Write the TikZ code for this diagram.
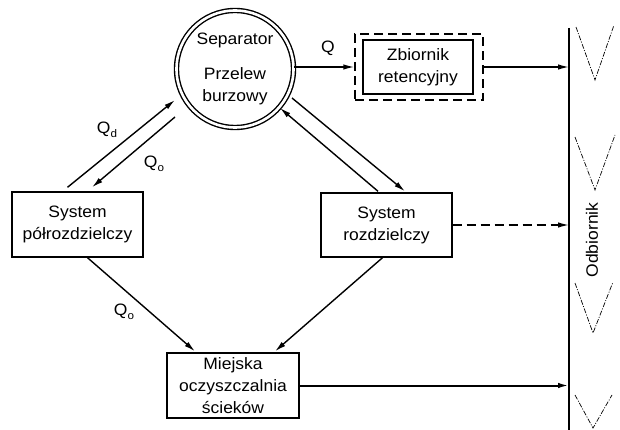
\documentclass[tikz,border=0pt]{standalone}
\usepackage{fontspec}
\setmainfont{Liberation Sans}[FakeStretch=1.06]
\usetikzlibrary{arrows.meta,calc}
\begin{document}
\begin{tikzpicture}[x=1pt,y=-1pt,
  font=\fontsize{16.5}{22}\selectfont,
  line width=1.4pt,
  box/.style={draw, rectangle, align=center, inner sep=0pt},
  arr/.style={-{Latex[length=11pt,width=5.5pt]}},
  vmark/.style={line width=0.7pt, dash pattern=on 5pt off 1.5pt on 1pt off 1.5pt}]
\path[use as bounding box] (0,0) rectangle (620,430);

% nodes
\node[circle, draw, double, double distance=2.6pt, minimum size=117pt, inner sep=0pt, align=center] (sep) at (235,69)
  {Separator\\[13pt]Przelew\\burzowy};
\node[draw, rectangle, dash pattern=on 9pt off 5pt, minimum width=128pt, minimum height=66pt, inner sep=0pt] (zbo) at (419,67) {};
\node[box, minimum width=110pt, minimum height=54pt] (zbi) at (418,67) {Zbiornik\\retencyjny};
\node[box, minimum width=131pt, minimum height=65pt] (pol) at (77.5,224.5) {System\\półrozdzielczy};
\node[box, minimum width=131pt, minimum height=64pt] (roz) at (386.5,225) {System\\rozdzielczy};
\node[box, minimum width=132pt, minimum height=65pt] (ocz) at (233,385.5) {Miejska\\oczyszczalnia\\ścieków};

% receiver
\coordinate (odbt) at (569,28);
\coordinate (odbb) at (569,430);
\draw (odbt) -- (odbb);
\node[rotate=90] (odbl) at (592,240) {Odbiornik};
\draw[vmark] (576,27) -- (595,80) -- (614,25);
\draw[vmark] (575,137) -- (595,190) -- (615,135);
\draw[vmark] (575,283) -- (593,333) -- (613,282);
\draw[vmark] (575,395) -- (593,428) -- (612,395);

% connectors
\draw[arr] (sep.east |- zbo.west) -- (zbo.west);
\draw[arr] (zbo.east) -- (zbo.east -| odbt);
\draw[arr, dash pattern=on 9pt off 5pt] (roz.east) -- (roz.east -| odbt);
\draw[arr, line width=2pt] (ocz.east) -- (ocz.east -| odbt);

\draw[arr] ($(pol.north)+(-10,-4)$) -- ($(sep.center)+(-60,31)$);
\draw[arr] ($(sep.center)+(-60,48)$) -- ($(pol.north)+(14.5,-4)$);
\draw[arr] ($(roz.north)+(-8.5,-1)$) -- ($(sep.center)+(45,39)$);
\draw[arr] ($(sep.center)+(57,29)$) -- ($(roz.north)+(18.5,-1)$);
\draw[arr] ($(pol.south)+(10,0)$) -- ($(ocz.north)+(-38,-1)$);
\draw[arr] ($(roz.south)+(-4,0)$) -- ($(ocz.north)+(42,-1)$);

% labels
\node (lq) at (328,48) {Q};
\node (lqd) at (107,130) {Q\raisebox{-4pt}{\fontsize{11}{11}\selectfont d}};
\node (lqo1) at (154,164) {Q\raisebox{-4pt}{\fontsize{11}{11}\selectfont o}};
\node (lqo2) at (124,312) {Q\raisebox{-4pt}{\fontsize{11}{11}\selectfont o}};
\end{tikzpicture}
\end{document}
